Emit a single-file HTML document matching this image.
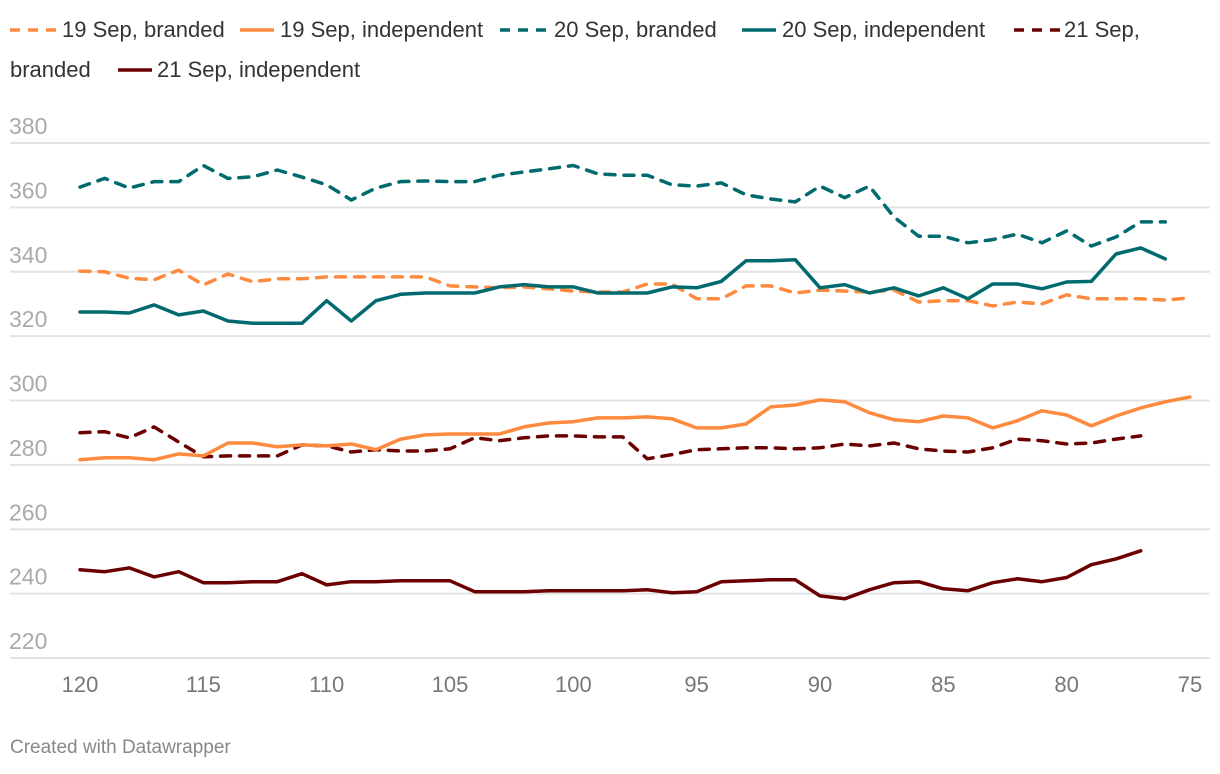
<!DOCTYPE html>
<html><head><meta charset="utf-8"><style>
body{margin:0;background:#fff;font-family:"Liberation Sans",sans-serif;}
#wrap{position:relative;width:1220px;height:774px;overflow:hidden;}
.li{position:absolute;font-size:22px;color:#333;line-height:30px;white-space:nowrap}
.mk{position:absolute}
#foot{position:absolute;left:10px;top:737px;font-size:19px;color:#888}
</style></head><body>
<div id="wrap">
<div>
<svg class="mk" style="left:10px;top:27px" width="46" height="6"><line x1="0" y1="3" x2="46" y2="3" stroke="#fd8a3e" stroke-width="3.5" stroke-dasharray="10,8"/></svg>
<span class="li" style="left:62px;top:15px">19 Sep, branded</span>
<svg class="mk" style="left:240px;top:27px" width="34" height="6"><line x1="0" y1="3" x2="34" y2="3" stroke="#fd8a3e" stroke-width="3.5"/></svg>
<span class="li" style="left:280px;top:15px">19 Sep, independent</span>
<svg class="mk" style="left:500px;top:27px" width="46" height="6"><line x1="0" y1="3" x2="46" y2="3" stroke="#006a6e" stroke-width="3.5" stroke-dasharray="10,8"/></svg>
<span class="li" style="left:554px;top:15px">20 Sep, branded</span>
<svg class="mk" style="left:742px;top:27px" width="34" height="6"><line x1="0" y1="3" x2="34" y2="3" stroke="#006a6e" stroke-width="3.5"/></svg>
<span class="li" style="left:782px;top:15px">20 Sep, independent</span>
<svg class="mk" style="left:1014px;top:27px" width="46" height="6"><line x1="0" y1="3" x2="46" y2="3" stroke="#6b0000" stroke-width="3.5" stroke-dasharray="10,8"/></svg>
<span class="li" style="left:1064px;top:15px">21 Sep,</span>
<span class="li" style="left:10px;top:55px">branded</span>
<svg class="mk" style="left:118px;top:67px" width="34" height="6"><line x1="0" y1="3" x2="34" y2="3" stroke="#6b0000" stroke-width="3.5"/></svg>
<span class="li" style="left:157px;top:55px">21 Sep, independent</span>
</div>
<svg id="plot" width="1220" height="774" style="position:absolute;left:0;top:0"></svg>
<div id="foot">Created with Datawrapper</div>
</div>
<script>
const yTicks=[380,360,340,320,300,280,260,240,220];
const xTicks=[120,115,110,105,100,95,90,85,80,75];
const sep20Branded=[366.3,369,366,368,368,373,369,369.5,371.6,369.4,367,362.3,366,368,368.2,368,368,370,371,372,373,370.4,370,370,367,366.6,367.6,363.9,362.6,361.7,366.6,363,366.6,357,351,351,349,350,351.7,349,352.7,348,350.8,355.5,355.5];
const sep20Indep=[327.5,327.5,327.2,329.7,326.6,327.8,324.7,324,324,324,331,324.7,331,333,333.4,333.4,333.4,335.3,336,335.3,335.3,333.4,333.4,333.4,335.3,335,337,343.4,343.4,343.7,335,336,333.4,335,332.5,335,331.6,336.2,336.2,334.7,336.8,337,345.5,347.4,344];
const sep19Branded=[340.2,340,338,337.5,340.5,335.9,339.3,336.9,337.8,337.8,338.4,338.4,338.4,338.4,338.4,335.6,335.3,335,335.3,334.7,334,333.7,333.7,336.2,336.2,331.6,331.6,335.6,335.6,333.4,334.3,334,333.7,334.3,330.6,331,331,329.4,330.6,330,332.8,331.6,331.6,331.6,331.2,331.9];
const sep19Indep=[281.6,282.2,282.2,281.6,283.4,282.8,286.8,286.8,285.6,286.2,285.9,286.5,284.7,288,289.3,289.6,289.6,289.6,291.8,293,293.4,294.6,294.6,294.9,294.3,291.5,291.5,292.7,298,298.6,300.2,299.6,296.2,294,293.4,295.2,294.6,291.5,293.7,296.8,295.5,292.1,295.2,297.7,299.6,301.1];
const sep21Branded=[290,290.3,288.4,291.8,287.1,282.5,282.8,282.8,282.8,286.2,285.9,284,284.7,284.3,284.3,285,288.4,287.5,288.4,289,289,288.7,288.7,281.9,283.2,284.7,285,285.3,285.3,285,285.3,286.5,285.9,286.8,285,284.3,284,285.3,288,287.5,286.5,286.8,288,289];
const sep21Indep=[247.4,246.8,248,245.2,246.8,243.4,243.4,243.7,243.7,246.2,242.7,243.7,243.7,244,244,244,240.6,240.6,240.6,240.9,240.9,240.9,240.9,241.2,240.3,240.6,243.7,244,244.3,244.3,239.3,238.4,241.2,243.4,243.7,241.5,240.9,243.4,244.6,243.7,245,249,250.8,253.3];
const NS="http://www.w3.org/2000/svg";
const svg=document.getElementById('plot');
const xS=v=>80+(120-v)*(1110/45);
const yS=v=>143+(380-v)*(515/160);
function mk(t,a){const e=document.createElementNS(NS,t);for(const k in a)e.setAttribute(k,a[k]);svg.appendChild(e);return e;}
yTicks.forEach(t=>{
  const g=mk('line',{x1:10,x2:1210,y1:yS(t),y2:yS(t),stroke:'#e3e3e3','stroke-width':2});
  
  
  const l=mk('text',{x:9,y:yS(t)-9,fill:'#aaa','font-size':23,'font-family':'Liberation Sans, sans-serif'});
  l.textContent=t;
  
  
});
xTicks.forEach(t=>{
  const l=mk('text',{x:xS(t),y:692,fill:'#777','font-size':22,'text-anchor':'middle','font-family':'Liberation Sans, sans-serif'});
  l.textContent=t;
  
  
});
function series(vals,color,dash,name){
  const d=vals.map((v,i)=>(i?'L':'M')+xS(120-i).toFixed(1)+','+yS(v).toFixed(1)).join('');
  const p=mk('path',{d:d,fill:'none',stroke:color,'stroke-width':3.5,'stroke-linejoin':'round','stroke-linecap':'round'});
  if(dash)p.setAttribute('stroke-dasharray','10,9');
  
  
}
series(sep21Indep,'#6b0000',false,'line-21-sep-independent');
series(sep21Branded,'#6b0000',true,'line-21-sep-branded');
series(sep19Indep,'#fd8a3e',false,'line-19-sep-independent');
series(sep19Branded,'#fd8a3e',true,'line-19-sep-branded');
series(sep20Indep,'#006a6e',false,'line-20-sep-independent');
series(sep20Branded,'#006a6e',true,'line-20-sep-branded');
</script>
</body></html>
